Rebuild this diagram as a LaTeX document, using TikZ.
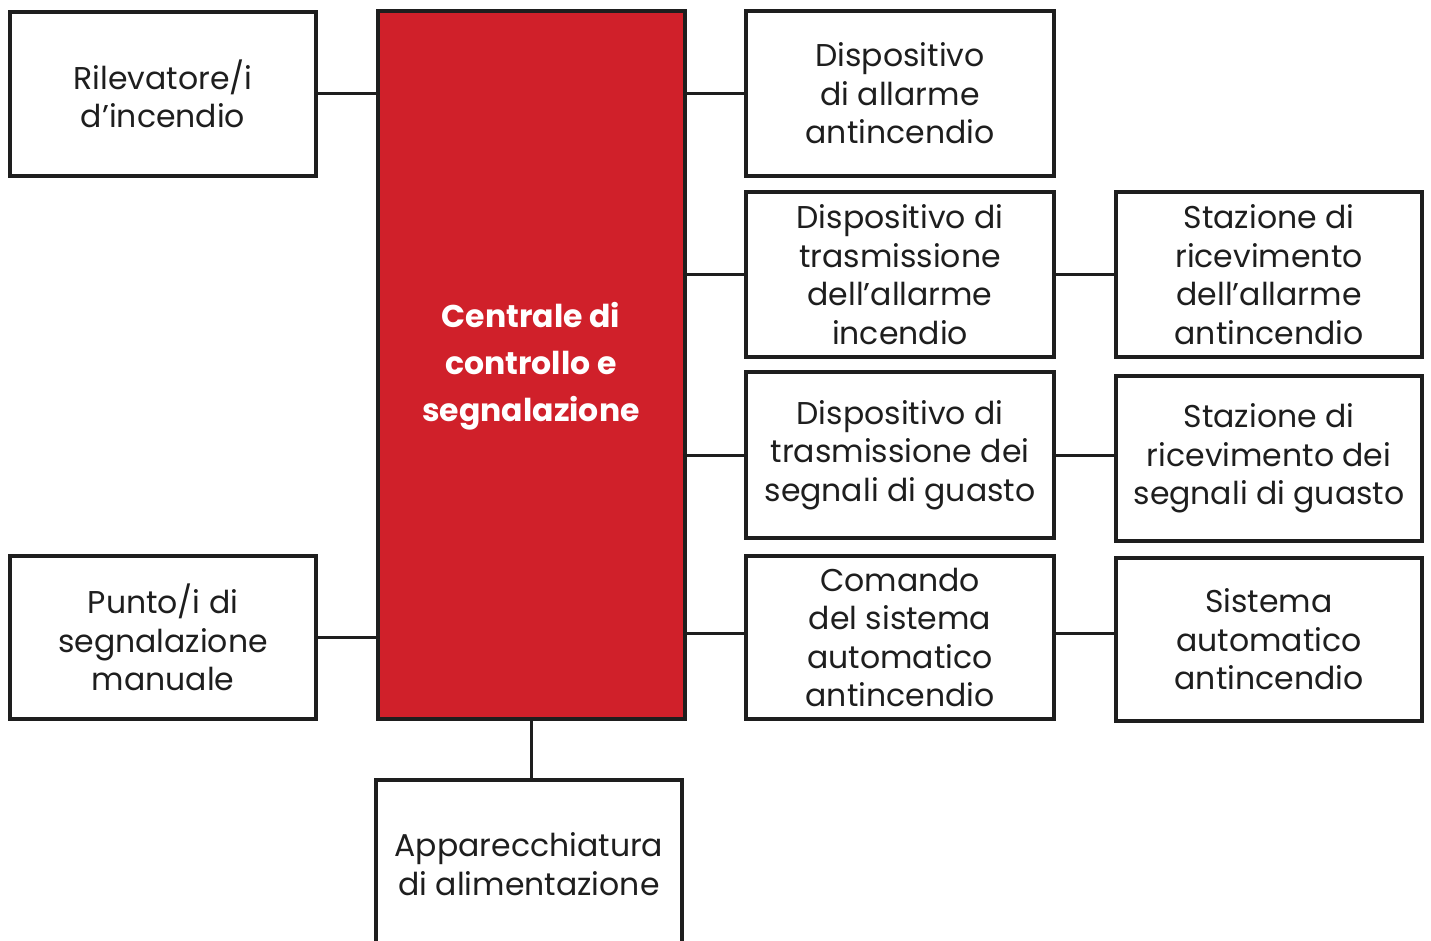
\documentclass[tikz,border=0pt]{standalone}
\usepackage{fontspec}
\setmainfont{Poppins}
\definecolor{cred}{HTML}{D0202A}
\definecolor{ink}{HTML}{1E1E1E}
\tikzset{
  blk/.style={draw=ink, line width=3.5pt, fill=white, align=center, text=ink,
    font=\fontsize{31.5}{38.5}\selectfont, inner sep=0pt},
  ctr/.style={draw=ink, line width=3.5pt, fill=cred, align=center, text=white,
    font=\fontsize{31.5}{47}\selectfont\bfseries, inner sep=0pt},
  conn/.style={draw=ink, line width=3pt}
}
\begin{document}
\begin{tikzpicture}[x=1pt,y=-1pt]
\useasboundingbox (0,0) rectangle (1431,941);
\begin{scope}
\clip (0,0) rectangle (1431,941);
\node[blk, minimum width=306pt, minimum height=164pt] (ril) at (163,94) {Rilevatore/i\\d'incendio};
\node[blk, minimum width=306pt, minimum height=163pt] (pun) at (163,637.5) {Punto/i di\\segnalazione\\manuale};
\node[ctr, minimum width=307pt, minimum height=708pt] (cen) at (531.5,365) {};
\node[text=white, align=center, font=\fontsize{31.5}{47}\selectfont\bfseries, inner sep=0pt] (cenlbl) at (531,366) {Centrale di\\controllo e\\segnalazione};
\node[blk, minimum width=306pt, minimum height=168pt] (app) at (529,864) {Apparecchiatura\\di alimentazione};
\node[blk, minimum width=308pt, minimum height=165pt] (d1) at (900,93.5) {Dispositivo\\di allarme\\antincendio};
\node[blk, minimum width=308pt, minimum height=165pt] (d2) at (900,274.5) {Dispositivo di\\trasmissione\\dell'allarme\\incendio};
\node[blk, minimum width=308pt, minimum height=166pt] (d3) at (900,455) {Dispositivo di\\trasmissione dei\\segnali di guasto};
\node[blk, minimum width=308pt, minimum height=163pt] (d4) at (900,637.5) {Comando\\del sistema\\automatico\\antincendio};
\node[blk, minimum width=306pt, minimum height=165pt] (s2) at (1269,274.5) {Stazione di\\ricevimento\\dell'allarme\\antincendio};
\node[blk, minimum width=306pt, minimum height=165pt] (s3) at (1269,458.5) {Stazione di\\ricevimento dei\\segnali di guasto};
\node[blk, minimum width=306pt, minimum height=163pt] (s4) at (1269,639.5) {Sistema\\automatico\\antincendio};
\draw[conn] (ril.east) -- (ril.east -| cen.west);
\draw[conn] (pun.east) -- (pun.east -| cen.west);
\draw[conn] (d1.west) -- (d1.west -| cen.east);
\draw[conn] (d2.west) -- (d2.west -| cen.east);
\draw[conn] (d3.west) -- (d3.west -| cen.east);
\draw[conn] ([yshift=4pt]d4.west) -- ([yshift=4pt]d4.west -| cen.east);
\draw[conn] (d2.east) -- (d2.east -| s2.west);
\draw[conn] (d3.east) -- (d3.east -| s3.west);
\draw[conn] ([yshift=4pt]d4.east) -- ([yshift=4pt]d4.east -| s4.west);
\draw[conn] (cen.south) -- (cen.south |- app.north);
\end{scope}
\end{tikzpicture}
\end{document}
